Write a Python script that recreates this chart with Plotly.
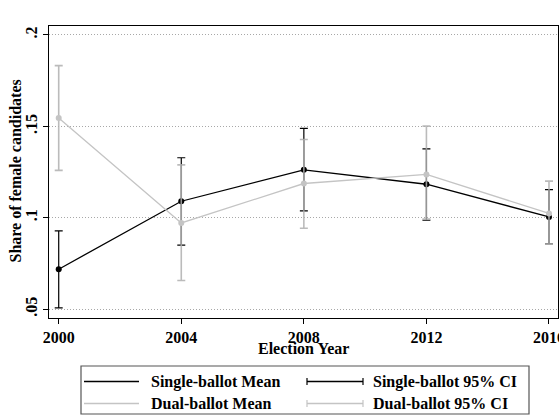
import plotly.graph_objects as go

# Election years and share of female candidates by ballot system
years = [2000, 2004, 2008, 2012, 2016]

single_mean = [0.0718, 0.1090, 0.1262, 0.1183, 0.1004]
single_lo = [0.0506, 0.0850, 0.1037, 0.0986, 0.0856]
single_hi = [0.0928, 0.1328, 0.1489, 0.1377, 0.1154]

dual_mean = [0.1545, 0.0971, 0.1187, 0.1237, 0.1023]
dual_lo = [0.1259, 0.0656, 0.0942, 0.0992, 0.0855]
dual_hi = [0.1832, 0.1289, 0.1428, 0.1501, 0.1200]

y_ticks = [0.05, 0.10, 0.15, 0.20]
y_tick_text = [".05", ".1", ".15", ".2"]

BLACK = "#000000"
GREY = "#c4c4c4"
FONT = "Liberation Serif"

W, H = 559, 416
ML, MR, MT, MB = 49, 1, 26, 98
PW, PH = W - ML - MR, H - MT - MB


def px(x):
    return (x - ML) / PW


def py(y):
    return (H - MB - y) / PH


fig = go.Figure()

# Single-ballot: CI whiskers and mean line
fig.add_trace(go.Scatter(
    x=years, y=single_mean, mode="lines+markers",
    line=dict(color=BLACK, width=1.3),
    marker=dict(color=BLACK, size=6),
    error_y=dict(type="data", symmetric=False,
                 array=[h - m for h, m in zip(single_hi, single_mean)],
                 arrayminus=[m - l for m, l in zip(single_mean, single_lo)],
                 color=BLACK, thickness=1.2, width=4),
    showlegend=False,
))

# Dual-ballot
fig.add_trace(go.Scatter(
    x=years, y=dual_mean, mode="lines+markers",
    line=dict(color=GREY, width=1.3),
    marker=dict(color=GREY, size=6),
    error_y=dict(type="data", symmetric=False,
                 array=[h - m for h, m in zip(dual_hi, dual_mean)],
                 arrayminus=[m - l for m, l in zip(dual_mean, dual_lo)],
                 color="rgba(175,175,175,0.85)", thickness=1.6, width=4),
    showlegend=False,
))

fig.update_xaxes(
    range=[1999.683, 2016.294],
    tickvals=years, ticktext=[str(y) for y in years],
    ticks="outside", ticklen=5, tickcolor=BLACK, tickwidth=1,
    ticklabeloverflow="allow", automargin=False,
    showline=True, linecolor=BLACK, linewidth=1.2, mirror=True,
    showgrid=False, zeroline=False,
    tickfont=dict(family=FONT, size=16, color=BLACK, weight="bold"),
)
fig.update_yaxes(
    range=[0.0451, 0.2049],
    tickvals=y_ticks, ticktext=y_tick_text, tickangle=-90,
    ticks="outside", ticklen=5, tickcolor=BLACK, tickwidth=1,
    automargin=False,
    showline=True, linecolor=BLACK, linewidth=1.2, mirror=True,
    showgrid=True, gridcolor="#a8a8a8", gridwidth=1, griddash="1px,2px",
    zeroline=False,
    tickfont=dict(family=FONT, size=16, color=BLACK, weight="bold"),
)

annotations = [
    dict(text="<b>Share of female candidates</b>", x=px(15), y=py(171.5),
         xanchor="center", yanchor="middle",
         textangle=-90, showarrow=False, xref="paper", yref="paper",
         font=dict(family=FONT, size=16, color=BLACK)),
    dict(text="<b>Election Year</b>", x=px(303.5), y=py(348),
         xanchor="center", yanchor="middle",
         showarrow=False, xref="paper", yref="paper",
         font=dict(family=FONT, size=16, color=BLACK)),
]

shapes = [
    # legend frame
    dict(type="rect", xref="paper", yref="paper",
         x0=px(81), x1=px(529), y0=py(366), y1=py(414),
         line=dict(color="#555555", width=1.2), fillcolor="white",
         layer="below"),
]

legend_rows = [
    (381.5, BLACK, "Single-ballot Mean", BLACK, "Single-ballot 95% CI"),
    (403.5, GREY, "Dual-ballot Mean", GREY, "Dual-ballot 95% CI"),
]
for yy, c1, t1, c2, t2 in legend_rows:
    shapes.append(dict(type="line", xref="paper", yref="paper",
                       x0=px(84), x1=px(139), y0=py(yy), y1=py(yy),
                       line=dict(color=c1, width=1.3)))
    shapes.append(dict(type="line", xref="paper", yref="paper",
                       x0=px(307), x1=px(363), y0=py(yy), y1=py(yy),
                       line=dict(color=c2, width=1.3)))
    for xc in (307, 363):
        shapes.append(dict(type="line", xref="paper", yref="paper",
                           x0=px(xc), x1=px(xc), y0=py(yy - 3.5), y1=py(yy + 3.5),
                           line=dict(color=c2, width=1.2)))
    annotations.append(dict(text=f"<b>{t1}</b>", x=px(149), y=py(yy),
                            xanchor="left", yanchor="middle", showarrow=False,
                            xref="paper", yref="paper",
                            font=dict(family=FONT, size=16, color=BLACK)))
    annotations.append(dict(text=f"<b>{t2}</b>", x=px(371), y=py(yy),
                            xanchor="left", yanchor="middle", showarrow=False,
                            xref="paper", yref="paper",
                            font=dict(family=FONT, size=16, color=BLACK)))

fig.update_layout(
    width=W, height=H,
    margin=dict(l=ML, r=MR, t=MT, b=MB, autoexpand=False),
    paper_bgcolor="white", plot_bgcolor="white",
    annotations=annotations, shapes=shapes,
    showlegend=False,
)

fig.write_html("out.html")
